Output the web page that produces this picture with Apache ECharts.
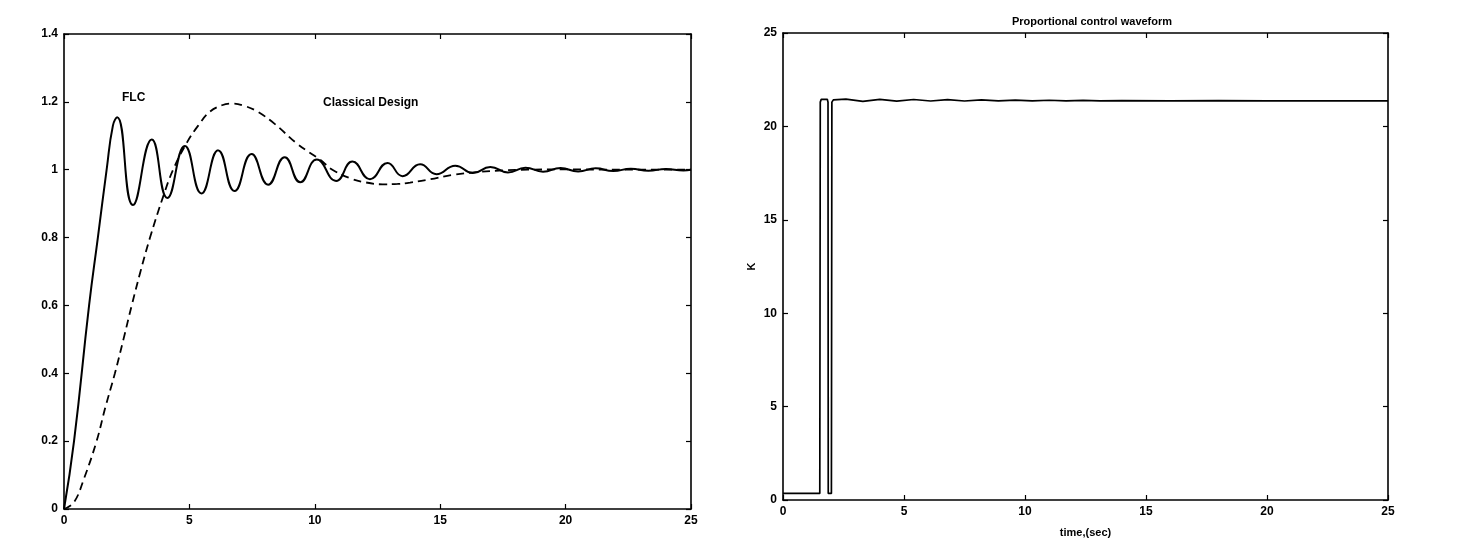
<!DOCTYPE html>
<html>
<head>
<meta charset="utf-8">
<script src="https://cdn.jsdelivr.net/npm/echarts@6/dist/echarts.min.js"></script>
<style>
html,body{margin:0;padding:0;background:#fff;}
#chart{width:1477px;height:560px;}
</style>
</head>
<body>
<div id="chart"></div>
<script>
// ---- data ----
var timeTicks = [0, 5, 10, 15, 20, 25];
var responseTicks = [0, 0.2, 0.4, 0.6, 0.8, 1, 1.2, 1.4];
var gainTicks = [0, 5, 10, 15, 20, 25];

// FLC step response (solid) [time, output] : ramp, then peaks / troughs
var flcResponse = [
  [0,0],[0.4,0.2],[1.0,0.6],[1.35,0.8],[1.7,1.0],[1.95,1.13],[2.12,1.155],[2.75,0.896],
  [3.5,1.089],[4.12,0.917],[4.82,1.07],[5.48,0.93],[6.15,1.057],[6.8,0.937],[7.48,1.046],
  [8.14,0.956],[8.8,1.037],[9.42,0.963],[10.08,1.03],[10.85,0.967],[11.5,1.024],[12.2,0.972],
  [12.9,1.02],[13.5,0.981],[14.2,1.016],[14.85,0.987],[15.6,1.012],[16.3,0.99],[17.0,1.008],
  [17.7,0.992],[18.4,1.006],[19.1,0.994],[19.8,1.005],[20.5,0.995],[21.2,1.004],[21.9,0.996],
  [22.6,1.003],[23.3,0.997],[24.0,1.002],[24.7,0.998],[25,1.0]
];

// Classical design step response (dashed) [time, output]
var classicalResponse = [
  [0,0],[0.4,0.02],[0.8,0.09],[1.3,0.2],[1.65,0.3],[2.03,0.4],[2.37,0.5],[2.7,0.6],[3.05,0.7],[3.43,0.8],
  [3.95,0.92],[4.35,1.0],[4.9,1.08],[5.35,1.13],[5.8,1.17],[6.3,1.19],[6.75,1.195],[7.2,1.188],[7.7,1.172],
  [8.4,1.135],[9.27,1.078],[9.8,1.05],[10.2,1.03],[10.7,1.0],[11.4,0.975],[12.0,0.963],[12.7,0.957],
  [13.3,0.958],[13.8,0.962],[14.6,0.972],[15.5,0.985],[16.5,0.993],[17.5,0.998],[18.5,1.0],[20,1.001],
  [22,1.0],[25,1.0]
];

// Proportional gain K waveform [time, K]
var gainWaveform = [
  [0,0.35],[1.52,0.35],[1.54,21.3],[1.58,21.45],[1.83,21.45],[1.86,21.3],[1.87,0.35],[2.0,0.35],[2.02,21.3],
  [2.08,21.42],[2.6,21.46],[3.3,21.34],[4.0,21.45],[4.7,21.35],[5.4,21.44],[6.1,21.36],[6.8,21.43],
  [7.5,21.36],[8.2,21.42],[8.9,21.37],[9.6,21.41],[10.3,21.37],[11.0,21.4],[11.7,21.37],[12.4,21.39],
  [13.1,21.37],[14.0,21.38],[16.0,21.37],[18.0,21.38],[20.0,21.37],[22.5,21.37],[25,21.37]
];

var FONT = 'Liberation Sans, Arial, sans-serif';
var labelFont = {color:'#000', fontFamily:FONT, fontWeight:'bold', fontSize:12};
function frameAxis(pos, gi, min, max, step, showLabels, extra) {
  var a = {
    type:'value', gridIndex:gi, position:pos, min:min, max:max, interval:step,
    axisLine:{show:true, onZero:false, lineStyle:{color:'#000', width:1.6}},
    axisTick:{show:true, inside:true, length:5, lineStyle:{color:'#000', width:1.2}},
    axisLabel:Object.assign({show:showLabels, margin:6}, labelFont),
    splitLine:{show:false}
  };
  return Object.assign(a, extra || {});
}
var tMin = timeTicks[0], tMax = timeTicks[timeTicks.length-1], tStep = timeTicks[1]-timeTicks[0];
var kMin = gainTicks[0], kMax = gainTicks[gainTicks.length-1], kStep = gainTicks[1]-gainTicks[0];
var rMin = responseTicks[0], rMax = responseTicks[responseTicks.length-1];

var chart = echarts.init(document.getElementById('chart'), null, {renderer:'canvas'});
chart.setOption({
  backgroundColor:'#fff',
  animation:false,
  title:{
    text:'Proportional control waveform', left:1087, top:11, textAlign:'center',
    textStyle:{color:'#000', fontFamily:FONT, fontWeight:'bold', fontSize:11}
  },
  grid:[
    {left:64, top:34, width:627, height:475},
    {left:783, top:33, width:605, height:467}
  ],
  xAxis:[
    frameAxis('bottom',0,tMin,tMax,tStep,true),
    frameAxis('top',0,tMin,tMax,tStep,false),
    frameAxis('bottom',1,tMin,tMax,tStep,true,
      {name:'time,(sec)', nameLocation:'middle', nameGap:27,
       nameTextStyle:{color:'#000', fontFamily:FONT, fontWeight:'bold', fontSize:11}}),
    frameAxis('top',1,tMin,tMax,tStep,false)
  ],
  yAxis:[
    frameAxis('left',0,rMin,rMax,0.2,true),
    frameAxis('right',0,rMin,rMax,0.2,false),
    frameAxis('left',1,kMin,kMax,kStep,true,
      {name:'K', nameLocation:'middle', nameGap:26, nameRotate:90,
       nameTextStyle:{color:'#000', fontFamily:FONT, fontWeight:'bold', fontSize:11}}),
    frameAxis('right',1,kMin,kMax,kStep,false)
  ],
  series:[
    {name:'FLC', type:'line', xAxisIndex:0, yAxisIndex:0, data:flcResponse, showSymbol:false, smooth:0.5,
     lineStyle:{color:'#000', width:2}},
    {name:'Classical Design', type:'line', xAxisIndex:0, yAxisIndex:0, data:classicalResponse, showSymbol:false, smooth:0.4,
     lineStyle:{color:'#000', width:1.8, type:[8,5]}},
    {name:'K', type:'line', xAxisIndex:2, yAxisIndex:2, data:gainWaveform, showSymbol:false,
     lineStyle:{color:'#000', width:1.7}}
  ],
  graphic:[
    {type:'text', left:122, top:92, style:{text:'FLC', fill:'#000', font:'bold 12px "Liberation Sans", Arial, sans-serif'}},
    {type:'text', left:323, top:97, style:{text:'Classical Design', fill:'#000', font:'bold 12px "Liberation Sans", Arial, sans-serif'}}
  ]
});
</script>
</body>
</html>
